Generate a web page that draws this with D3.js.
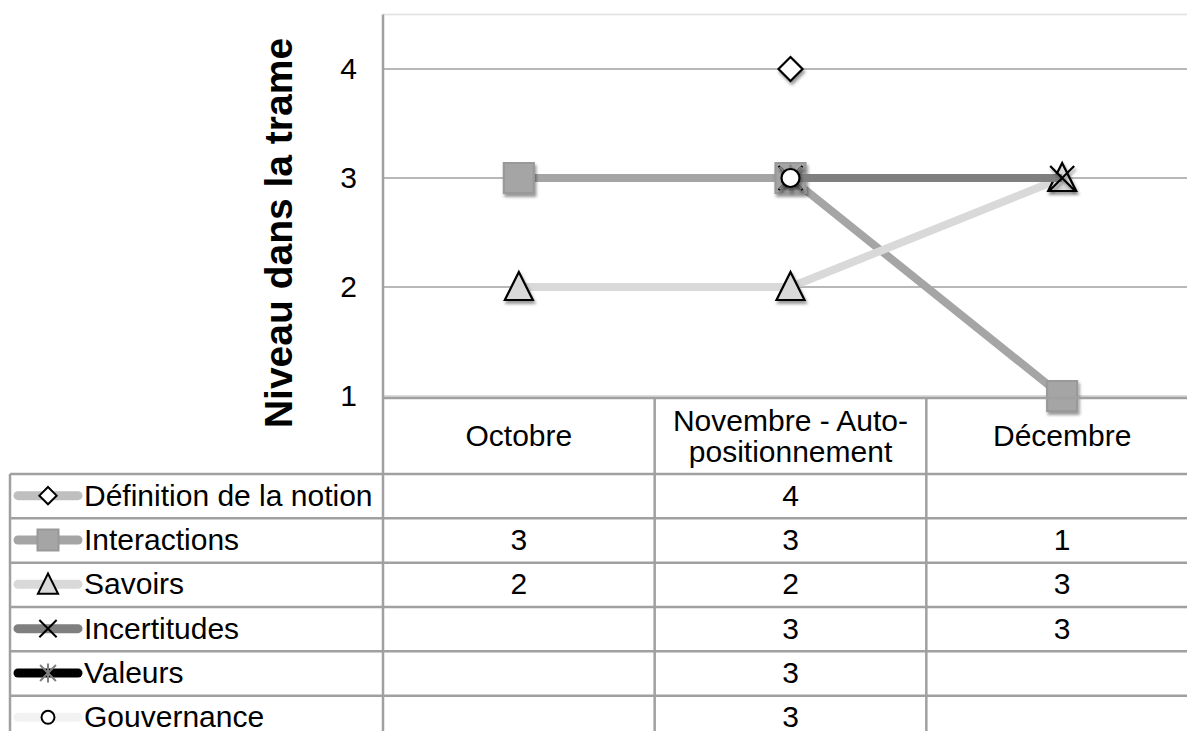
<!DOCTYPE html>
<html>
<head>
<meta charset="utf-8">
<script src="https://cdn.jsdelivr.net/npm/d3@7"></script>
<style>
  body { margin: 0; background: #fff; }
  svg { display: block; font-family: "Liberation Sans", Arial, sans-serif; }
</style>
</head>
<body>
<svg id="chart" width="1187" height="731"></svg>
<script>
// data
const categories = ["Octobre", "Novembre - Auto-positionnement", "Décembre"];
const categoryLines = [["Octobre"], ["Novembre - Auto-", "positionnement"], ["Décembre"]];
const seriesNames = ["Définition de la notion", "Interactions", "Savoirs", "Incertitudes", "Valeurs", "Gouvernance"];
const definition = [null, 4, null];
const interactions = [3, 3, 1];
const savoirs = [2, 2, 3];
const incertitudes = [null, 3, 3];
const valeurs = [null, 3, null];
const gouvernance = [null, 3, null];
const yTicks = [1, 2, 3, 4];
const yTitle = "Niveau dans la trame";

const seriesValues = [definition, interactions, savoirs, incertitudes, valeurs, gouvernance];

// look of each series (kept apart from the values)
const styles = [
  { line: "#bfbfbf", marker: "diamond", fill: "#fff", stroke: "#000" },
  { line: "#a5a5a5", marker: "square", fill: "#a5a5a5", stroke: "#999" },
  { line: "#d9d9d9", marker: "triangle", fill: "#d9d9d9", stroke: "#000" },
  { line: "#7f7f7f", marker: "x", fill: "none", stroke: "#000" },
  { line: "#000000", marker: "star", fill: "none", stroke: "#7f7f7f" },
  { line: "#f2f2f2", marker: "circle", fill: "#fff", stroke: "#000" }
];

const svg = d3.select("#chart");
const W = 1187;
const gridColor = "#a0a0a0";
const fontSize = 30;

const x = d3.scaleBand().domain(categories).range([383, 1198]).padding(0);
const y = d3.scaleLinear().domain([1, 4.5]).range([396, 14.5]);
const rows = d3.scaleBand().domain(seriesNames).range([474, 740]);

const defs = svg.append("defs");
const filt = defs.append("filter").attr("id", "shadow")
  .attr("x", "-50%").attr("y", "-50%").attr("width", "200%").attr("height", "200%");
filt.append("feDropShadow").attr("dx", 1.5).attr("dy", 3).attr("stdDeviation", 1.6)
  .attr("flood-color", "#000").attr("flood-opacity", 0.4);

// marker path for a given shape and scale
function markerPath(type, k) {
  const p = d3.path();
  switch (type) {
    case "diamond": {
      const s = 12 * k;
      p.moveTo(0, -s); p.lineTo(s, 0); p.lineTo(0, s); p.lineTo(-s, 0); p.closePath();
      break;
    }
    case "square": {
      const s = 15 * k;
      p.rect(-s, -s, 2 * s, 2 * s);
      break;
    }
    case "triangle": {
      const w = 14 * k, h = 13 * k;
      p.moveTo(0, -h - 2 * k); p.lineTo(w, h); p.lineTo(-w, h); p.closePath();
      break;
    }
    case "x": {
      const s = 12 * k;
      p.moveTo(-s, -s); p.lineTo(s, s); p.moveTo(-s, s); p.lineTo(s, -s);
      break;
    }
    case "star": {
      const s = 11 * k;
      p.moveTo(-s, -s); p.lineTo(s, s); p.moveTo(-s, s); p.lineTo(s, -s);
      p.moveTo(0, -s * 1.2); p.lineTo(0, s * 1.2);
      break;
    }
    case "circle":
      p.arc(0, 0, 9 * k, 0, 2 * Math.PI);
      break;
  }
  return p.toString();
}

// plot frame and gridlines
svg.append("line").attr("x1", 383).attr("x2", W).attr("y1", y(4.5)).attr("y2", y(4.5))
  .attr("stroke", "#e0e0e0").attr("stroke-width", 1.5);
svg.selectAll(".grid").data(yTicks).enter().append("line")
  .attr("class", "grid")
  .attr("x1", 383).attr("x2", W)
  .attr("y1", d => y(d)).attr("y2", d => y(d))
  .attr("stroke", d => d === 1 ? "#d0d0d0" : gridColor)
  .attr("stroke-width", 1.5);

// y axis labels
const yAxis = svg.append("g").attr("transform", "translate(383,0)")
  .call(d3.axisLeft(y).tickValues(yTicks).tickSize(0).tickPadding(26).tickFormat(d3.format("d")));
yAxis.select(".domain").remove();
yAxis.selectAll("text").attr("font-size", fontSize).attr("fill", "#000")
  .attr("font-family", "Liberation Sans, Arial, sans-serif");

svg.append("text")
  .attr("transform", "translate(292,233) rotate(-90)")
  .attr("text-anchor", "middle")
  .attr("font-size", 39).attr("font-weight", "bold")
  .text(yTitle);

// series lines
const line = d3.line()
  .defined(d => d.v != null)
  .x(d => x(d.c) + x.bandwidth() / 2)
  .y(d => y(d.v));

const seriesData = seriesNames.map((name, i) => ({
  name: name,
  style: styles[i],
  points: categories.map((c, j) => ({ c: c, v: seriesValues[i][j] }))
}));

seriesData.forEach(s => {
  svg.append("path")
    .datum(s.points)
    .attr("d", line)
    .attr("fill", "none")
    .attr("stroke", s.style.line)
    .attr("stroke-width", 8);

  svg.selectAll(null)
    .data(s.points.filter(p => p.v != null))
    .enter().append("path")
    .attr("transform", p => `translate(${x(p.c) + x.bandwidth() / 2},${y(p.v)})`)
    .attr("d", markerPath(s.style.marker, 1))
    .attr("fill", s.style.fill)
    .attr("stroke", s.style.stroke)
    .attr("stroke-width", 2.2)
    .attr("filter", "url(#shadow)");
});

// data table
const tableColor = "#a0a0a0";
const hLines = [474].concat(seriesNames.slice(1).map(n => rows(n)));
svg.append("line").attr("x1", 383).attr("x2", W).attr("y1", 398).attr("y2", 398)
  .attr("stroke", tableColor).attr("stroke-width", 2.5);
svg.selectAll(".hrow").data(hLines).enter().append("line")
  .attr("x1", 10).attr("x2", W)
  .attr("y1", d => d).attr("y2", d => d)
  .attr("stroke", tableColor).attr("stroke-width", 2.5);
svg.append("line").attr("x1", 10).attr("x2", 10).attr("y1", 474).attr("y2", 731)
  .attr("stroke", tableColor).attr("stroke-width", 2.5);
svg.append("line").attr("x1", 383).attr("x2", 383).attr("y1", y(4.5)).attr("y2", 731)
  .attr("stroke", tableColor).attr("stroke-width", 2.5);
svg.selectAll(".vcol").data(categories.slice(1)).enter().append("line")
  .attr("x1", d => x(d)).attr("x2", d => x(d))
  .attr("y1", 398).attr("y2", 731)
  .attr("stroke", tableColor).attr("stroke-width", 2.5);

// header cells
categories.forEach((c, i) => {
  const lines = categoryLines[i];
  const cy = 436;
  const lh = 31;
  const t = svg.append("text")
    .attr("text-anchor", "middle")
    .attr("font-size", fontSize);
  lines.forEach((ln, k) => {
    t.append("tspan")
      .attr("x", x(c) + x.bandwidth() / 2)
      .attr("y", cy + 10 + (k - (lines.length - 1) / 2) * lh)
      .text(ln);
  });
});

// legend keys, labels and values
seriesData.forEach(s => {
  const cy = rows(s.name) + rows.bandwidth() / 2 - 0.5;
  svg.append("line")
    .attr("x1", 18).attr("x2", 78).attr("y1", cy).attr("y2", cy)
    .attr("stroke", s.style.line).attr("stroke-width", 9)
    .attr("stroke-linecap", "round");
  svg.append("path")
    .attr("transform", `translate(48,${cy})`)
    .attr("d", markerPath(s.style.marker, s.style.marker === "square" ? 0.7 : 0.72))
    .attr("fill", s.style.fill)
    .attr("stroke", s.style.stroke)
    .attr("stroke-width", 2);
  svg.append("text")
    .attr("x", 84).attr("y", cy + 10)
    .attr("font-size", fontSize)
    .text(s.name);
  svg.selectAll(null)
    .data(s.points.filter(p => p.v != null))
    .enter().append("text")
    .attr("x", p => x(p.c) + x.bandwidth() / 2)
    .attr("y", cy + 10)
    .attr("text-anchor", "middle")
    .attr("font-size", fontSize)
    .text(p => p.v);
});
</script>
</body>
</html>
